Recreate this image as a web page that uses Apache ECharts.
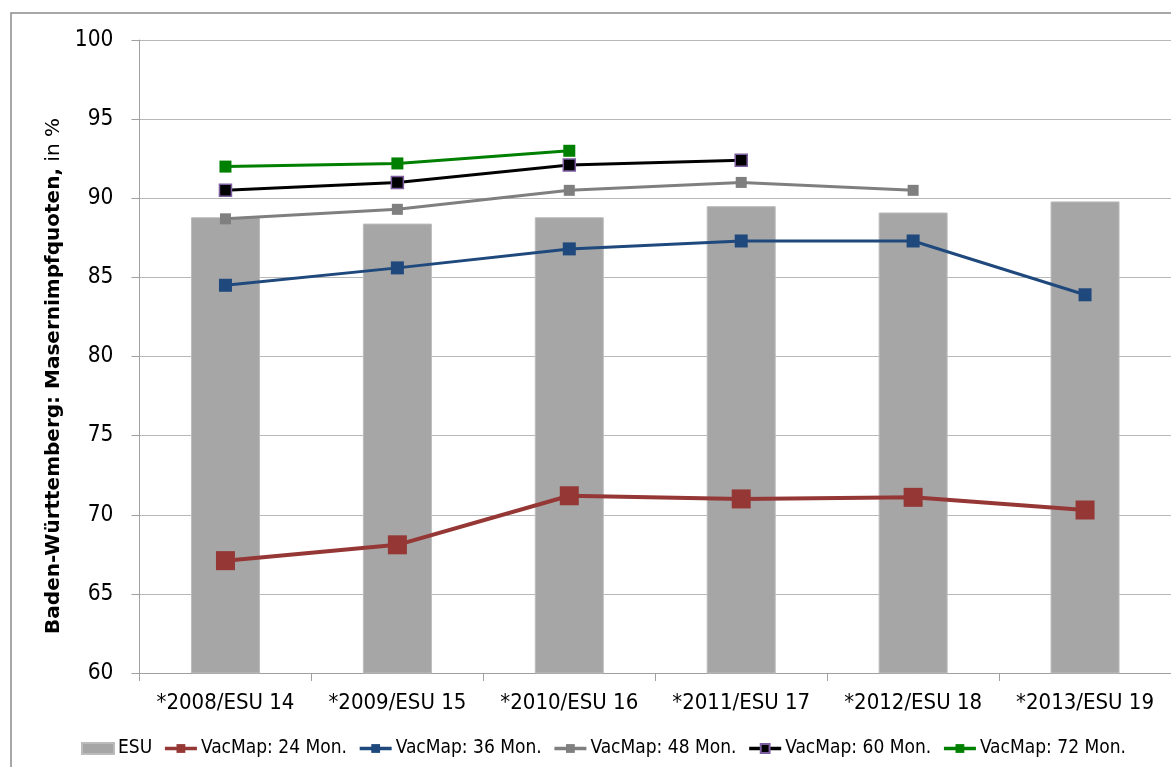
<!DOCTYPE html>
<html>
<head>
<meta charset="utf-8">
<script src="https://cdn.jsdelivr.net/npm/echarts@6/dist/echarts.min.js"></script>
<style>
  html, body { margin: 0; padding: 0; background: #fff; }
  #chart { width: 1171px; height: 767px; }
</style>
</head>
<body>
<div id="chart"></div>
<script>
// School entry examinations (ESU) and VacMap coverage by age, Baden-Württemberg
const categories = ['*2008/ESU 14', '*2009/ESU 15', '*2010/ESU 16', '*2011/ESU 17', '*2012/ESU 18', '*2013/ESU 19'];
const esu      = [88.8, 88.4, 88.8, 89.5, 89.1, 89.8];
const vac24    = [67.1, 68.1, 71.2, 71.0, 71.1, 70.3];
const vac36    = [84.5, 85.6, 86.8, 87.3, 87.3, 83.9];
const vac48    = [88.7, 89.3, 90.5, 91.0, 90.5, null];
const vac60    = [90.5, 91.0, 92.1, 92.4, null, null];
const vac72    = [92.0, 92.2, 93.0, null, null, null];
const yTicks   = { min: 60, max: 100, interval: 5 };

const FONT = '"DejaVu Sans Condensed", "DejaVu Sans", sans-serif';
const FONT_WIDE = '"DejaVu Sans", sans-serif';

const chart = echarts.init(document.getElementById('chart'), null, { renderer: 'canvas' });

function lineSeries(name, data, color, width, size, border) {
  return {
    name: name,
    type: 'line',
    data: data,
    symbol: 'rect',
    symbolSize: size,
    connectNulls: false,
    lineStyle: { color: color, width: width },
    itemStyle: border
      ? { color: color, borderColor: border, borderWidth: 1.5 }
      : { color: color },
    emphasis: { disabled: true },
    z: 3
  };
}

chart.setOption({
  animation: false,
  textStyle: { fontFamily: FONT },
  grid: { left: 139.5, top: 40, right: -5.3, bottom: 94 },
  graphic: [
    {
      type: 'rect',
      shape: { x: 11, y: 13, width: 1200, height: 800 },
      style: { fill: 'none', stroke: '#8a8a8a', lineWidth: 1.5 },
      silent: true, z: -10
    },
    {
      type: 'text',
      x: 54, y: 376,
      rotation: Math.PI / 2,
      style: {
        text: '{b|Baden-Württemberg: Masernimpfquoten,}{n| in %}',
        align: 'center',
        verticalAlign: 'middle',
        rich: {
          b: { fontFamily: FONT_WIDE, fontWeight: 'bold', fontSize: 20, fill: '#000' },
          n: { fontFamily: FONT_WIDE, fontWeight: 'normal', fontSize: 20, fill: '#000' }
        }
      },
      silent: true
    }
  ],
  legend: {
    left: 81,
    top: 739,
    padding: 0,
    itemWidth: 32,
    itemHeight: 11,
    itemGap: 11,
    lineStyle: { width: 3.5 },
    textStyle: { fontFamily: FONT, fontSize: 19, color: '#000', padding: [0, 0, 0, -1] },
    data: [
      { name: 'ESU', icon: 'rect', itemStyle: { color: '#a6a6a6' } },
      'VacMap: 24 Mon.', 'VacMap: 36 Mon.', 'VacMap: 48 Mon.', 'VacMap: 60 Mon.', 'VacMap: 72 Mon.'
    ]
  },
  xAxis: {
    type: 'category',
    data: categories,
    boundaryGap: true,
    axisLine: { show: true, lineStyle: { color: '#a0a0a0', width: 1 } },
    axisTick: { show: true, length: 8, alignWithLabel: false, lineStyle: { color: '#a0a0a0' } },
    axisLabel: { fontFamily: FONT, fontSize: 22, color: '#000', margin: 19, interval: 0 },
    splitLine: { show: false }
  },
  yAxis: {
    type: 'value',
    min: yTicks.min,
    max: yTicks.max,
    interval: yTicks.interval,
    axisLine: { show: true, lineStyle: { color: '#a0a0a0', width: 1 } },
    axisTick: { show: true, length: 8, lineStyle: { color: '#a0a0a0' } },
    axisLabel: { fontFamily: FONT, fontSize: 22.5, color: '#000', margin: 26 },
    splitLine: { show: true, lineStyle: { color: '#b8b8b8', width: 1.2 } }
  },
  series: [
    {
      name: 'ESU',
      type: 'bar',
      data: esu,
      barWidth: 69,
      itemStyle: { color: '#a6a6a6', borderColor: '#bcbcbc', borderWidth: 1 },
      emphasis: { disabled: true },
      z: 2
    },
    lineSeries('VacMap: 24 Mon.', vac24, '#953735', 4, 19),
    lineSeries('VacMap: 36 Mon.', vac36, '#1f497d', 3, 13),
    lineSeries('VacMap: 48 Mon.', vac48, '#7f7f7f', 3, 11),
    lineSeries('VacMap: 60 Mon.', vac60, '#000000', 3, 12, '#7d5ea0'),
    lineSeries('VacMap: 72 Mon.', vac72, '#008000', 3, 12)
  ]
});
</script>
</body>
</html>
